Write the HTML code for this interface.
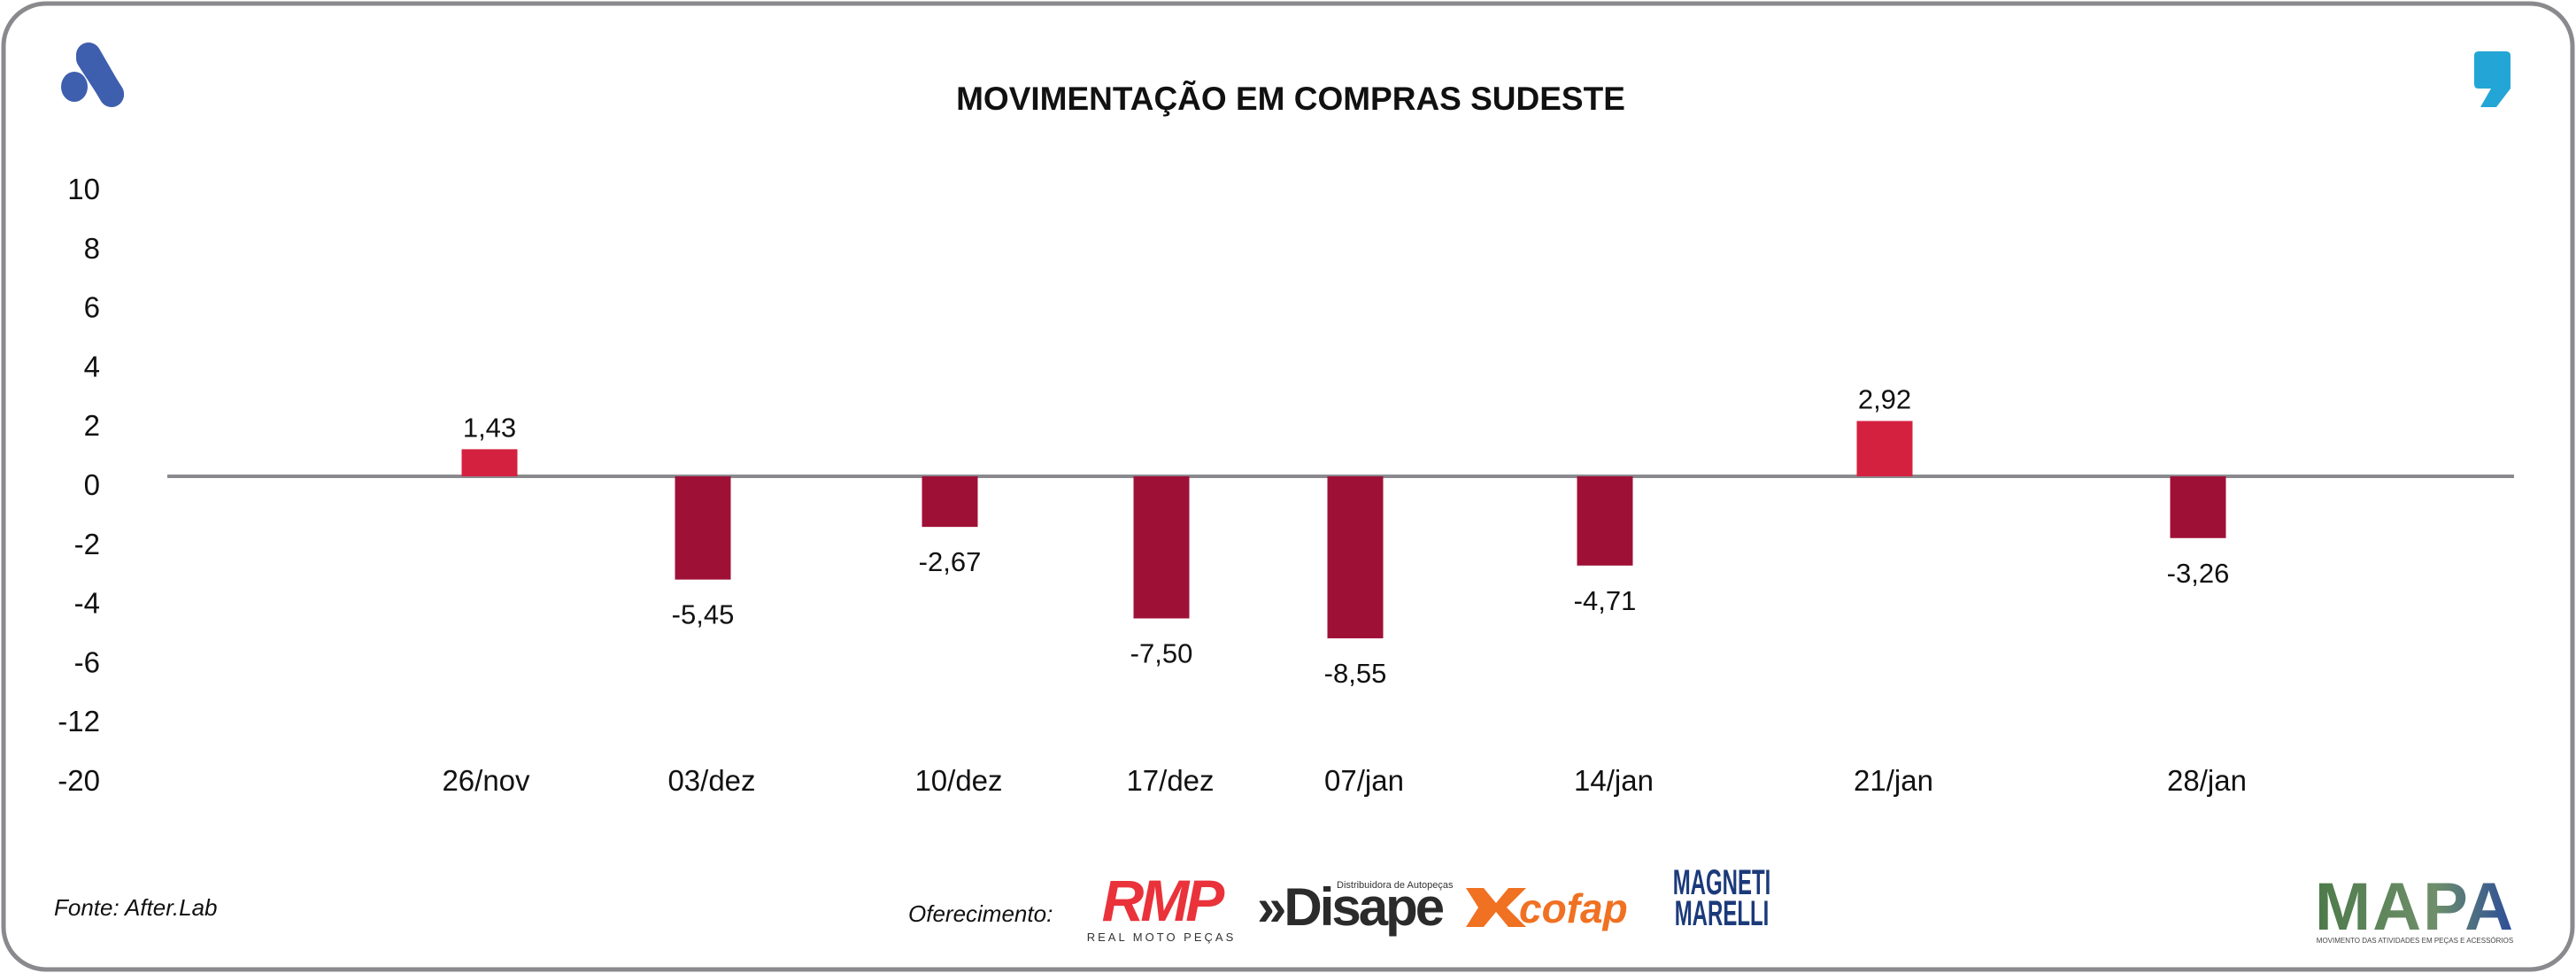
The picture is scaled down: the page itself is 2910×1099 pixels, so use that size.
<!DOCTYPE html>
<html><head><meta charset="utf-8"><style>
html,body{margin:0;padding:0;background:#fff;}
svg{display:block;font-family:"Liberation Sans",sans-serif;}
</style></head><body>
<svg id="chart" width="2910" height="1099" viewBox="0 0 2910 1099">
<rect x="4" y="4" width="2902" height="1091" rx="48" ry="48" fill="#fff" stroke="#8a8a8e" stroke-width="5"/>
<g>
<line x1="100" y1="66" x2="126" y2="106" stroke="#3e5eae" stroke-width="28" stroke-linecap="round"/>
<line x1="100" y1="62" x2="126" y2="107" stroke="#3e5eae" stroke-width="28" stroke-linecap="round"/>
<ellipse cx="84" cy="98" rx="15" ry="17" fill="#3e5eae"/>
</g>
<text x="1458" y="124" text-anchor="middle" font-size="37" font-weight="bold" fill="#111">MOVIMENTAÇÃO EM COMPRAS SUDESTE</text>
<path d="M2800 58 H2831 Q2836 58 2836 63 V100 L2820 121 H2802 L2814 100 H2800 Q2795 100 2795 95 V63 Q2795 58 2800 58 Z" fill="#23a5d6"/>
<g id="yaxis"></g>
<line x1="189" y1="538" x2="2840" y2="538" stroke="#8a8a8e" stroke-width="4"/>
<g id="bars"></g>
<g id="xaxis"></g>
<text x="61" y="1034" font-size="26" font-style="italic" fill="#111">Fonte: After.Lab</text>
<text x="1026" y="1041" font-size="26" font-style="italic" fill="#111">Oferecimento:</text>
<g>
<text x="1312" y="1040" text-anchor="middle" font-size="66" font-weight="bold" font-style="italic" fill="#ea323b" letter-spacing="-4">RMP</text>
<text x="1312" y="1063" text-anchor="middle" font-size="13" fill="#333" letter-spacing="3">REAL MOTO PEÇAS</text>
</g>
<g>
<text x="1420" y="1045" font-size="60" font-weight="bold" fill="#2b2b2b" letter-spacing="-3">»Disape</text>
<text x="1510" y="1003" font-size="11" fill="#333">Distribuidora de Autopeças</text>
</g>
<g>
<path d="M1656 1003 L1676 1003 L1690 1020 L1704 1003 L1724 1003 L1702 1025 L1724 1047 L1704 1047 L1690 1030 L1676 1047 L1656 1047 L1670 1025 Z" fill="#f07122"/>
<text x="1716" y="1042" font-size="46" font-weight="bold" font-style="italic" fill="#f07122">cofap</text>
</g>
<g>
<text x="1945" y="1010" text-anchor="middle" font-size="40" font-weight="bold" fill="#1b3a7a" transform="translate(1945 0) scale(0.6 1) translate(-1945 0)">MAGNETI</text>
<text x="1945" y="1045" text-anchor="middle" font-size="40" font-weight="bold" fill="#1b3a7a" transform="translate(1945 0) scale(0.6 1) translate(-1945 0)">MARELLI</text>
</g>
<g>
<defs><linearGradient id="mg" x1="0" x2="1"><stop offset="0" stop-color="#4d7a4a"/><stop offset="0.6" stop-color="#6e8f6a"/><stop offset="1" stop-color="#2a4c9a"/></linearGradient></defs>
<text x="2728" y="1050" text-anchor="middle" font-size="76" font-weight="bold" fill="url(#mg)" letter-spacing="2">MAPA</text>
<text x="2728" y="1065" text-anchor="middle" font-size="8" fill="#444">MOVIMENTO DAS ATIVIDADES EM PEÇAS E ACESSÓRIOS</text>
</g>
</svg>
<script>
const categories = ["26/nov","03/dez","10/dez","17/dez","07/jan","14/jan","21/jan","28/jan"];
const values = [1.43,-5.45,-2.67,-7.50,-8.55,-4.71,2.92,-3.26];
const valueLabels = ["1,43","-5,45","-2,67","-7,50","-8,55","-4,71","2,92","-3,26"];
const yTickLabels = ["10","8","6","4","2","0","-2","-4","-6","-12","-20"];

const NS = "http://www.w3.org/2000/svg";
const zeroY = 538, unit = 21.4, barW = 63;
const catX = [553,794,1073,1312,1531,1813,2129,2483];
function yScale(v){ return zeroY - v*unit; }
function xScale(i){ return catX[i]; }
function mk(tag, attrs, parent){ const e=document.createElementNS(NS,tag); for(const k in attrs) e.setAttribute(k,attrs[k]); parent.appendChild(e); return e; }

const yg = document.getElementById('yaxis');
yTickLabels.forEach((t,i)=>{
  const e = mk('text',{x:113,y:225+i*66.8,'text-anchor':'end','font-size':33,fill:'#111'},yg);
  
  
  e.textContent = t;
});
const bg = document.getElementById('bars');
values.forEach((v,i)=>{
  const y0 = yScale(Math.max(v,0)), y1 = yScale(Math.min(v,0));
  const r = mk('rect',{x:xScale(i)-barW/2,y:y0,width:barW,height:Math.max(y1-y0,0),fill:v>=0?'#d4213f':'#9f1037'},bg);
  
  
  const ly = v>=0 ? y0-14 : y1+50;
  const t = mk('text',{x:xScale(i),y:ly,'text-anchor':'middle','font-size':31,fill:'#111'},bg);
  
  
  t.textContent = valueLabels[i];
});
const xg = document.getElementById('xaxis');
categories.forEach((c,i)=>{
  const t = mk('text',{x:xScale(i)+(i===0?-4:10),y:893,'text-anchor':'middle','font-size':33,fill:'#111'},xg);
  
  
  t.textContent = c;
});
</script>
</body></html>
